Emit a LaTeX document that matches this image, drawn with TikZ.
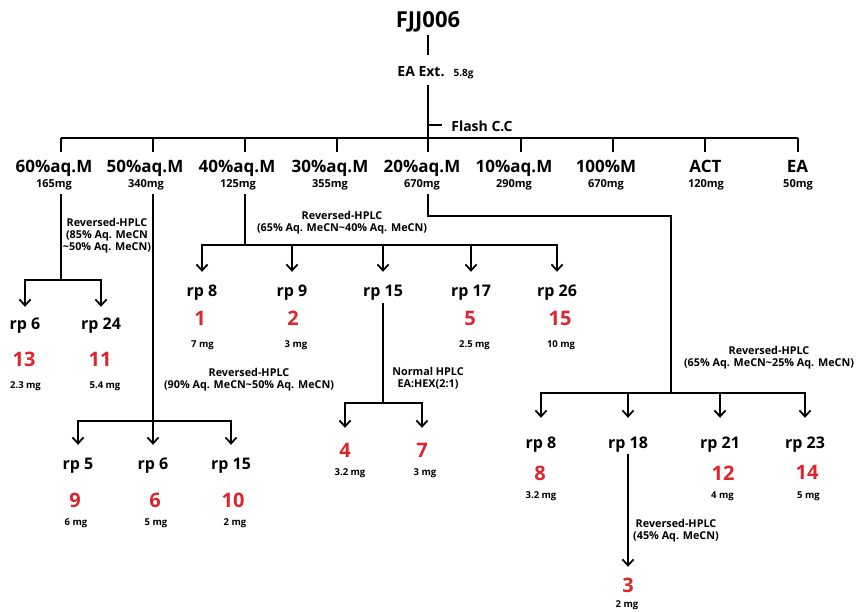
\documentclass[tikz,border=0pt]{standalone}
\usepackage{fontspec}
\setmainfont{Open Sans}
\usetikzlibrary{arrows.meta}
\definecolor{cpdred}{RGB}{220,37,45}
\begin{document}
\begin{tikzpicture}[x=1pt,y=-1pt,
  ln/.style={line width=1.8pt},
  arr/.style={line width=1.8pt,-{Straight Barb[length=6pt,width=11pt]}},
  hd/.style={inner sep=1pt,font=\bfseries\fontsize{22}{26}\selectfont,text height=16.5pt,text depth=5.5pt},
  md/.style={inner sep=1pt,font=\bfseries\fontsize{14}{17}\selectfont,text height=10.5pt,text depth=3.5pt},
  fr/.style={inner sep=1pt,font=\bfseries\fontsize{17}{20}\selectfont,text height=12.75pt,text depth=4.25pt},
  mg/.style={inner sep=1pt,font=\bfseries\fontsize{11}{13}\selectfont,text height=8.25pt,text depth=2.75pt},
  rp/.style={inner sep=1pt,font=\bfseries\fontsize{16}{19}\selectfont,text height=12pt,text depth=4pt},
  num/.style={inner sep=1pt,text=cpdred,font=\bfseries\fontsize{20}{24}\selectfont,text height=15pt,text depth=5pt},
  sm/.style={inner sep=1pt,font=\bfseries\fontsize{9.5}{11}\selectfont,text height=7.125pt,text depth=2.375pt},
  hp/.style={inner sep=1pt,align=center,font=\bfseries\fontsize{10.8}{12}\selectfont},
]
\fill[white] (0,0) rectangle (860,612);
\useasboundingbox (0,0) rectangle (860,612);

% top
\node[hd] (fjj) at (428,22.5) {FJJ006};
\node[md] (ea) at (421,73.5) {EA Ext.};
\node[sm,font=\bfseries\fontsize{10}{12}\selectfont] (eamg) at (463.5,74.5) {5.8g};
\node[md] (flash) at (482,128) {Flash C.C};
\coordinate (bar) at (0,138);
\draw[ln, shorten >=10pt] (fjj.south) -- (fjj.south |- ea.north);
\draw[ln, shorten <=3pt] (fjj.south |- ea.south) -- (fjj.south |- bar);
\draw[ln] ([yshift=3pt]flash.west -| fjj.south) -- ([xshift=-8pt,yshift=3pt]flash.west);

% fractions
\coordinate (t60) at (61,138);
\coordinate (t50) at (153,138);
\coordinate (t40) at (245,138);
\coordinate (t30) at (337,138);
\coordinate (t20) at (428,138);
\coordinate (t10) at (521,138);
\coordinate (t100) at (613,138);
\coordinate (tACT) at (705,138);
\coordinate (tEA) at (798,138);
\node[fr] (f60) at (54,168.75) {60\%aq.M};   \node[mg] (m60) at (54,184.75) {165mg};
\node[fr] (f50) at (145,168.75) {50\%aq.M};  \node[mg] (m50) at (146,184.75) {340mg};
\node[fr] (f40) at (237,168.75) {40\%aq.M};  \node[mg] (m40) at (238,184.75) {125mg};
\node[fr] (f30) at (330,168.75) {30\%aq.M};  \node[mg] (m30) at (330,184.75) {355mg};
\node[fr] (f20) at (422,168.75) {20\%aq.M};  \node[mg] (m20) at (422,184.75) {670mg};
\node[fr] (f10) at (514,168.75) {10\%aq.M};  \node[mg] (m10) at (514,184.75) {290mg};
\node[fr] (f100) at (606,168.75) {100\%M};   \node[mg] (m100) at (606,184.75) {670mg};
\node[fr] (fACT) at (705.5,168.75) {ACT};    \node[mg] (mACT) at (706,184.75) {120mg};
\node[fr] (fEA) at (797.5,168.75) {EA};      \node[mg] (mEA) at (798,184.75) {50mg};
\draw[ln] (t60) -- (tEA);
\foreach \t/\f in {t60/f60,t50/f50,t40/f40,t30/f30,t20/f20,t10/f10,t100/f100,tACT/fACT,tEA/fEA}
  \draw[ln, shorten >=7pt] (\t) -- (\t |- \f.north);

% 60% group
\coordinate (j60) at (61,280);
\draw[ln, shorten <=3pt] (m60.south -| j60) -- (j60);
\node[hp] (h60) at (107,236) {Reversed-HPLC\\(85\% Aq. MeCN\\\textasciitilde50\% Aq. MeCN)};
\node[rp] (r6a) at (25,326) {rp 6};
\node[rp] (r24a) at (101,326) {rp 24};
\node[num] (c13) at (24,362) {13};
\node[num] (c11) at (100,362) {11};
\node[sm] (w13) at (25.5,386.6) {2.3 mg};
\node[sm] (w11) at (105,386.6) {5.4 mg};
\draw[arr, shorten >=10pt] (j60) -| (r6a.north);
\draw[arr, shorten >=10pt] (j60) -| (r24a.north);

% 50% group
\coordinate (j50) at (153,421);
\draw[ln, shorten <=3pt] (m50.south -| j50) -- (j50);
\node[hp] (h50) at (249,380) {Reversed-HPLC\\(90\% Aq. MeCN\textasciitilde50\% Aq. MeCN)};
\node[rp] (r5b) at (78,465) {rp 5};
\node[rp] (r6b) at (153,465) {rp 6};
\node[rp] (r15b) at (231,465) {rp 15};
\node[num] (c9) at (75,502) {9};
\node[num] (c6) at (155,502) {6};
\node[num] (c10) at (233,502) {10};
\node[sm] (w9) at (76,523.6) {6 mg};
\node[sm] (w6) at (156,523.6) {5 mg};
\node[sm] (w10) at (235,523.6) {2 mg};
\draw[arr, shorten >=11pt] (j50) -| (r5b.north);
\draw[arr, shorten >=11pt] (j50) -- (r6b.north);
\draw[arr, shorten >=11pt] (j50) -| (r15b.north);

% 40% group
\coordinate (j40) at (245,245);
\draw[ln, shorten <=3pt] (m40.south -| j40) -- (j40);
\node[hp] (h40) at (342,223) {Reversed-HPLC\\(65\% Aq. MeCN\textasciitilde40\% Aq. MeCN)};
\node[rp] (r8a) at (202,293) {rp 8};
\node[rp] (r9a) at (292,293) {rp 9};
\node[rp] (r15a) at (383,293) {rp 15};
\node[rp] (r17a) at (471,293) {rp 17};
\node[rp] (r26a) at (557,293) {rp 26};
\node[num] (c1) at (200,321) {1};
\node[num] (c2) at (293,321) {2};
\node[num] (c5) at (470,321) {5};
\node[num] (c15) at (560,321) {15};
\node[sm] (w1) at (202.5,345.6) {7 mg};
\node[sm] (w2) at (296,345.6) {3 mg};
\node[sm] (w5) at (474.5,345.6) {2.5 mg};
\node[sm] (w15) at (561,345.6) {10 mg};
\foreach \r in {r8a,r9a,r15a,r17a,r26a}
  \draw[arr, shorten >=12pt] (j40) -| (\r.north);

% normal HPLC group
\coordinate (jN) at (383,403);
\draw[ln, shorten <=1pt] (r15a.south) -- (jN);
\node[hp] (hN) at (428,378) {Normal HPLC\\EA:HEX(2:1)};
\node[num] (c4) at (345,452) {4};
\node[num] (c7) at (422,452) {7};
\node[sm] (w4) at (350,473.6) {3.2 mg};
\node[sm] (w7) at (425,473.6) {3 mg};
\draw[arr, shorten >=13pt] (jN) -| (c4.north);
\draw[arr, shorten >=13pt] (jN) -| (c7.north);

% 20% group
\coordinate (k20) at (671,216);
\coordinate (jR) at (671,393);
\draw[ln, shorten <=3pt] (m20.south -| t20) |- (k20) -- (jR);
\node[hp] (h20) at (769,357.5) {Reversed-HPLC\\(65\% Aq. MeCN\textasciitilde25\% Aq. MeCN)};
\node[rp] (r8c) at (541,444) {rp 8};
\node[rp] (r18c) at (628,444) {rp 18};
\node[rp] (r21c) at (720,444) {rp 21};
\node[rp] (r23c) at (805,444) {rp 23};
\node[num] (c8) at (540,475) {8};
\node[num] (c12) at (723,475) {12};
\node[num] (c14) at (807,474) {14};
\node[sm] (w8) at (541,496.6) {3.2 mg};
\node[sm] (w12) at (722.5,496.6) {4 mg};
\node[sm] (w14) at (808.5,496.6) {5 mg};
\foreach \r in {r8c,r18c,r21c,r23c}
  \draw[arr, shorten >=17pt] (jR) -| (\r.north);
\node[hp] (h18) at (676,531) {Reversed-HPLC\\(45\% Aq. MeCN)};
\node[num] (c3) at (628,587) {3};
\node[sm] (w3) at (627,605.5) {2 mg};
\draw[arr, shorten <=1pt, shorten >=9pt] (r18c.south) -- (c3.north);
\end{tikzpicture}
\end{document}
